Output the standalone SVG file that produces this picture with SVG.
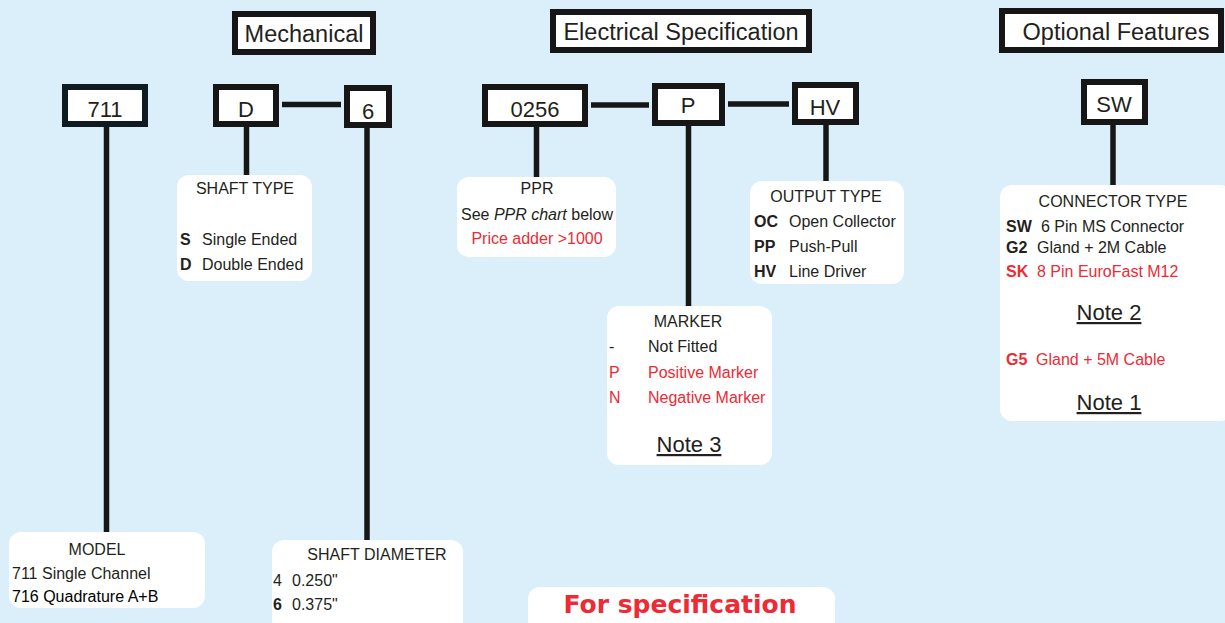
<svg xmlns="http://www.w3.org/2000/svg" width="1225" height="623" viewBox="0 0 1225 623">
<style>
text{font-family:"Liberation Sans",Arial,sans-serif;fill:#231f20}
.hdr{font-size:23.5px;text-anchor:middle}
.code{font-size:22px;text-anchor:middle}
.frame{fill:#fff;stroke:#161616;stroke-width:6}
.card{fill:#fff}
.t{font-size:16px}
.c{text-anchor:middle}
.b{font-weight:bold}
.red{fill:#ee2a35}
.note{font-size:22px;text-anchor:middle;text-decoration:underline}
.wire{stroke:#161616;stroke-width:5.5;fill:none}
</style>
<rect width="1225" height="623" fill="#daeffa"/>

<g id="hdr-mechanical"><rect class="frame" x="235" y="14" width="138" height="38"/><text class="hdr" x="304" y="42">Mechanical</text></g>
<g id="hdr-electrical"><rect class="frame" x="553" y="12" width="256" height="38"/><text class="hdr" x="681" y="40">Electrical Specification</text></g>
<g id="hdr-optional"><rect class="frame" x="1002" y="11" width="219" height="39"/><text class="hdr" x="1116" y="40">Optional Features</text></g>

<g id="connectors">
<line class="wire" x1="106.5" y1="127" x2="106.5" y2="533"/>
<line class="wire" x1="246.5" y1="127" x2="246.5" y2="177"/>
<line class="wire" x1="367" y1="128" x2="367" y2="541"/>
<line class="wire" x1="282" y1="104.5" x2="341" y2="104.5"/>
<line class="wire" x1="536.5" y1="127" x2="536.5" y2="178"/>
<line class="wire" x1="591" y1="105" x2="649" y2="105"/>
<line class="wire" x1="688.5" y1="126" x2="688.5" y2="307"/>
<line class="wire" x1="728" y1="104" x2="789" y2="104"/>
<line class="wire" x1="826" y1="125" x2="826" y2="182"/>
<line class="wire" x1="1113" y1="125" x2="1113" y2="186"/>
</g>

<g id="code-711"><rect class="frame" style="stroke:#0e1c22" x="65" y="87" width="80" height="37"/><text class="code" x="105" y="117">711</text></g>
<g id="code-D"><rect class="frame" x="216" y="87" width="60" height="37"/><text class="code" x="246" y="117">D</text></g>
<g id="code-6"><rect class="frame" x="347" y="88" width="42" height="37"/><text class="code" x="368" y="119">6</text></g>
<g id="code-0256"><rect class="frame" x="485" y="87" width="100" height="37"/><text class="code" x="535" y="117">0256</text></g>
<g id="code-P"><rect class="frame" x="655" y="86" width="67" height="37"/><text class="code" x="688" y="113">P</text></g>
<g id="code-HV"><rect class="frame" x="795" y="85" width="61" height="37"/><text class="code" x="825" y="115">HV</text></g>
<g id="code-SW"><rect class="frame" x="1084" y="82" width="61" height="40"/><text class="code" x="1114" y="112">SW</text></g>

<g id="card-shaft-type">
<rect class="card" x="177" y="175" width="135" height="106" rx="12"/>
<text class="t c" x="245" y="194">SHAFT TYPE</text>
<text class="t" x="180" y="245"><tspan class="b">S</tspan><tspan x="202">Single Ended</tspan></text>
<text class="t" x="180" y="270"><tspan class="b">D</tspan><tspan x="202">Double Ended</tspan></text>
</g>

<g id="card-ppr">
<rect class="card" x="457" y="177" width="159" height="80" rx="12"/>
<text class="t c" x="537" y="194">PPR</text>
<text class="t c" x="537" y="220">See <tspan font-style="italic">PPR chart</tspan> below</text>
<text class="t c red" x="537" y="244">Price adder &gt;1000</text>
</g>

<g id="card-output-type">
<rect class="card" x="750" y="181" width="154" height="103" rx="12"/>
<text class="t c" x="826" y="202">OUTPUT TYPE</text>
<text class="t" x="754" y="227"><tspan class="b">OC</tspan><tspan x="789">Open Collector</tspan></text>
<text class="t" x="754" y="252"><tspan class="b">PP</tspan><tspan x="789">Push-Pull</tspan></text>
<text class="t" x="754" y="277"><tspan class="b">HV</tspan><tspan x="789">Line Driver</tspan></text>
</g>

<g id="card-marker">
<rect class="card" x="607" y="306" width="165" height="159" rx="12"/>
<text class="t c" x="688" y="327">MARKER</text>
<text class="t" x="609" y="352">-<tspan x="648">Not Fitted</tspan></text>
<text class="t red" x="609" y="378">P<tspan x="648">Positive Marker</tspan></text>
<text class="t red" x="609" y="403">N<tspan x="648">Negative Marker</tspan></text>
<text class="note" x="689" y="452">Note 3</text>
</g>

<g id="card-connector-type">
<rect class="card" x="1000" y="185" width="232" height="236" rx="12"/>
<text class="t c" x="1113" y="207">CONNECTOR TYPE</text>
<text class="t" x="1006" y="232"><tspan class="b">SW</tspan><tspan x="1041">6 Pin MS Connector</tspan></text>
<text class="t" x="1006" y="253"><tspan class="b">G2</tspan><tspan x="1037">Gland + 2M Cable</tspan></text>
<text class="t red" x="1006" y="277"><tspan class="b red">SK</tspan><tspan x="1037">8 Pin EuroFast M12</tspan></text>
<text class="note" x="1109" y="320">Note 2</text>
<text class="t red" x="1006" y="365"><tspan class="b red">G5</tspan><tspan x="1036">Gland + 5M Cable</tspan></text>
<text class="note" x="1109" y="410">Note 1</text>
</g>

<g id="card-model">
<rect class="card" x="9" y="532" width="196" height="76" rx="12"/>
<text class="t c" x="97" y="555">MODEL</text>
<text class="t" x="12" y="579">711 Single Channel</text>
<text class="t" x="12" y="602" style="fill:#000">716 Quadrature A+B</text>
</g>

<g id="card-shaft-diameter">
<rect class="card" x="272" y="540" width="191" height="100" rx="12"/>
<text class="t c" x="377" y="560" font-size="15.5">SHAFT DIAMETER</text>
<text class="t" x="273" y="586">4<tspan x="292">0.250"</tspan></text>
<text class="t" x="273" y="610"><tspan class="b">6</tspan><tspan x="292">0.375"</tspan></text>
</g>

<g id="card-for-specification">
<rect class="card" x="528" y="587" width="307" height="60" rx="12"/>
<text x="680" y="613" text-anchor="middle" style="font-family:'DejaVu Sans',Verdana,sans-serif;font-size:25px;font-weight:bold;fill:#ee2a35">For specification</text>
</g>
</svg>
